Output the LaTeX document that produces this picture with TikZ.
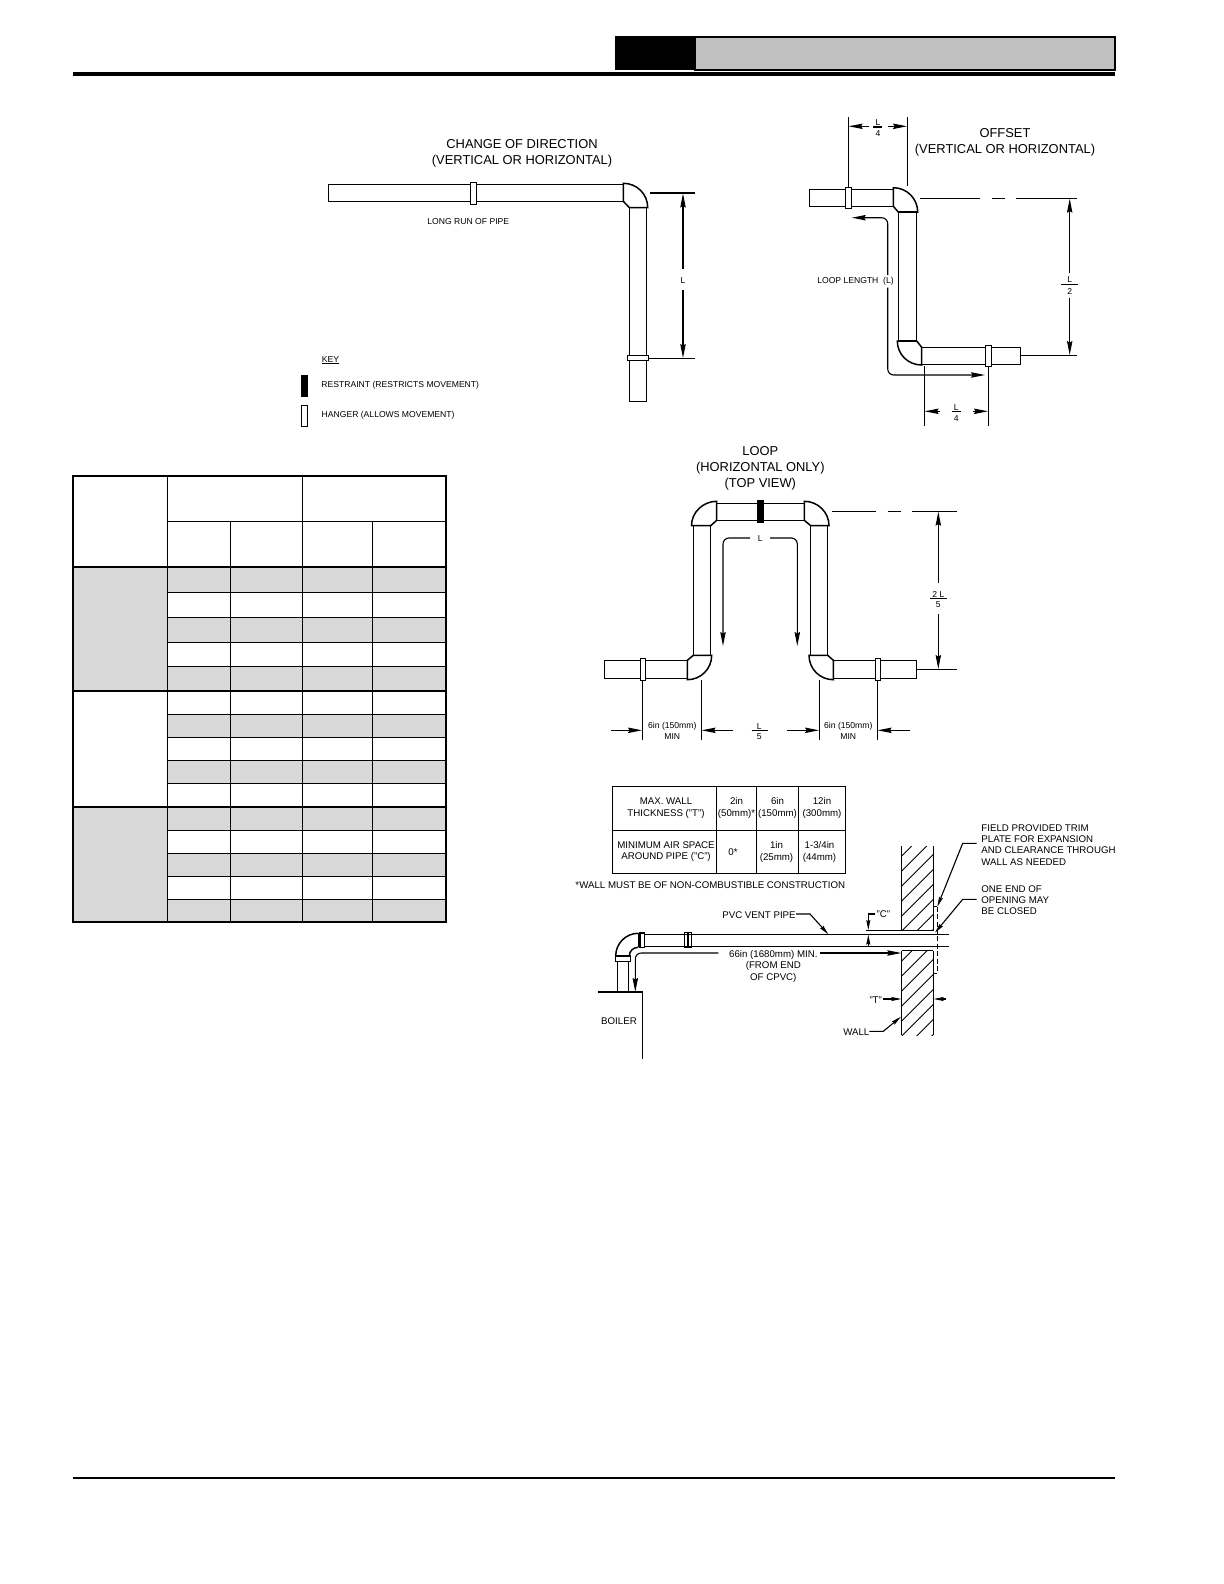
\documentclass[tikz,border=0pt]{standalone}
\usepackage{fontspec}
\setmainfont{Liberation Sans}
\usetikzlibrary{arrows.meta}
\definecolor{cellgrey}{HTML}{D8D8D8}
\definecolor{bargrey}{HTML}{C0C0C0}
\tikzset{
  pipe/.style={line width=0.75pt,line join=miter},
  pipefill/.style={pipe,fill=white},
  dimline/.style={line width=0.55pt},
  tip/.style={dimline,-{Stealth[length=7pt,width=2.7pt,inset=0.8pt]}},
  tinytip/.style={dimline,-{Stealth[length=5pt,width=2pt,inset=0.6pt]}},
  rndtip/.style={tip,rounded corners=3pt},
  title/.style={font=\fontsize{6.45}{7.9}\selectfont,align=center,inner sep=0pt,yshift=-0.7pt},
  small/.style={font=\fontsize{4.3}{5}\selectfont,align=center,inner sep=0pt,yshift=-0.4pt},
  note/.style={font=\fontsize{4.85}{5.7}\selectfont,align=center,inner sep=0pt,yshift=-0.4pt},
  noteleft/.style={note,align=left,anchor=west},
  cellline/.style={line width=0.6pt},
  tabthick/.style={line width=1.1pt},
  hatch/.style={line width=0.4pt},
}
\begin{document}
\begin{tikzpicture}[x=0.5pt,y=-0.5pt]
\useasboundingbox (0,0) rectangle (1224,1584);
\fill[white] (0,0) rectangle (1224,1584);

% ---------- page header and footer
\fill[black] (615,36) rectangle (695,70.5);
\draw[line width=1pt,fill=bargrey] (695,37) rectangle (1115,70);
\fill[black] (72.7,72) rectangle (1115,76);
\fill[black] (72.7,1477) rectangle (1115,1479);

% ---------- table
\foreach \ya/\yb in {566.7/592.3,617.3/642.3,666.3/690.3,714.3/737.3,760.3/783.3,807/830.3,853.3/876.3,899.3/921.7}
  \fill[cellgrey] (167.7,\ya) rectangle (446,\yb);
\fill[cellgrey] (72.7,566.7) rectangle (167.7,690.3);
\fill[cellgrey] (72.7,807) rectangle (167.7,921.7);
\foreach \y in {592.3,617.3,642.3,666.3,714.3,737.3,760.3,783.3,830.3,853.3,876.3,899.3}
  \draw[cellline] (167.7,\y) -- (446,\y);
\draw[cellline] (167.7,521.3) -- (446,521.3);
\draw[cellline] (167.7,475.7) -- (167.7,921.7);
\draw[cellline] (302.7,475.7) -- (302.7,921.7);
\draw[cellline] (230.3,521.3) -- (230.3,921.7);
\draw[cellline] (372.7,521.3) -- (372.7,921.7);
\foreach \y in {566.7,691,807}
  \draw[tabthick] (72.7,\y) -- (446,\y);
\draw[tabthick] (72.7,475.7) rectangle (446,921.7);

% ---------- change of direction
\node[title] (t1) at (522,152) {CHANGE OF DIRECTION\\(VERTICAL OR HORIZONTAL)};
\draw[pipe] (328.3,184.3) rectangle (623.3,201.3);
\draw[pipefill] (470.3,182.3) rectangle (476.7,204.3);
\draw[pipe] (623.3,183.3) .. controls +(13.5,0) and +(0,-13.5) .. (647.7,207.6) -- (629.3,207.6) -- (623.3,201.3) -- cycle;
\draw[pipe] (629.3,207.3) rectangle (646.7,401.7);
\draw[pipefill] (627.3,355.7) rectangle (648.7,360.7);
\node[small] (lr) at (468.3,221) {LONG RUN OF PIPE};
\draw[dimline] (650,193) -- (695,193);
\draw[dimline] (648.7,358.3) -- (695,358.3);
\node[small] (l1) at (683,279.5) {L};
\draw[tip] (683,269) -- (683,193.5);
\draw[tip] (683,290) -- (683,358);

% key
\node[small,anchor=west] (key) at (321.5,358.3) {KEY};
\draw[line width=0.5pt] (321.5,363.7) -- (338.7,363.7);
\fill[black] (301,375) rectangle (308,396.7);
\node[small,anchor=west] (k1) at (321,384.3) {RESTRAINT (RESTRICTS MOVEMENT)};
\draw[pipe] (301.7,405.3) rectangle (307.7,426.3);
\node[small,anchor=west] (k2) at (321.3,414.3) {HANGER (ALLOWS MOVEMENT)};

% ---------- offset
\node[title] (t2) at (1005,141) {OFFSET\\(VERTICAL OR HORIZONTAL)};
\draw[dimline] (848.3,117) -- (848.3,187.3);
\draw[dimline] (907.3,117) -- (907.3,185.7);
\node[small] (o1) at (878,121.7) {L};
\draw[dimline] (873.3,127) -- (882,127);
\node[small] (o2) at (878,132.3) {4};
\draw[tip] (869,126.3) -- (848.6,126.3);
\draw[tip] (888.3,126.3) -- (907,126.3);
\draw[pipe] (809.3,189.3) rectangle (893.3,206.3);
\draw[pipefill] (845.7,187.3) rectangle (851.7,208.3);
\draw[pipe] (893.3,187.7) .. controls +(13.5,0) and +(0,-13.5) .. (917.7,212.1) -- (898.3,212.1) -- (893.3,206.3) -- cycle;
\draw[pipe] (898.3,212.1) rectangle (916.7,341);
\draw[pipe] (897.3,341) -- (916.7,341) -- (921.7,347.3) -- (921.7,365) .. controls +(-13.5,0) and +(0,13.5) .. (897.3,341) -- cycle;
\draw[pipe] (921.7,347.3) rectangle (1020.3,364.3);
\draw[pipefill] (985.3,345.3) rectangle (991.3,366.7);
\draw[dimline] (920,198.3) -- (980,198.3) (992,198.3) -- (1005,198.3) (1016,198.3) -- (1076.7,198.3);
\draw[dimline] (1020.3,355.3) -- (1076.7,355.3);
\node[small] (o3) at (1069.7,279) {L};
\draw[dimline] (1061,284.3) -- (1077.7,284.3);
\node[small] (o4) at (1069.7,290.3) {2};
\draw[tip] (1069.7,273.3) -- (1069.7,198.7);
\draw[tip] (1069.7,297.7) -- (1069.7,355);
\node[small] (o5) at (855.5,280) {LOOP LENGTH\ \ (L)};
\draw[rndtip] (887.7,275) -- (887.7,217.7) -- (851.7,217.7);
\draw[rndtip] (887.7,287.7) -- (887.7,375) -- (985,375);
\draw[dimline] (924.3,365.7) -- (924.3,425.7);
\draw[dimline] (988.3,366.7) -- (988.3,425.7);
\node[small] (o6) at (956.3,406.3) {L};
\draw[dimline] (951.7,411.7) -- (961,411.7);
\node[small] (o7) at (956.3,417.3) {4};
\draw[tip] (940,411.3) -- (924.6,411.3);
\draw[tip] (973.3,411.3) -- (988,411.3);

% ---------- loop
\node[title] (t3) at (760.3,467) {LOOP\\(HORIZONTAL ONLY)\\(TOP VIEW)};
\draw[pipe] (716.7,503.3) rectangle (804.3,520.3);
\fill[black] (757,500) rectangle (764,522.7);
\draw[pipe] (716.7,501.3) .. controls +(-13.5,0) and +(0,-13.5) .. (691.5,525.7) -- (710.7,525.7) -- (716.7,520.3) -- cycle;
\draw[pipe] (804.3,501.3) .. controls +(13.5,0) and +(0,-13.5) .. (829,525.7) -- (810.7,525.7) -- (804.3,520.3) -- cycle;
\draw[pipe] (693.3,525.7) rectangle (710.7,655.3);
\draw[pipe] (810.7,525.7) rectangle (827.7,655.3);
\draw[pipe] (711.7,655.3) .. controls +(0,13.5) and +(13.5,0) .. (687.3,679.7) -- (687.3,660.3) -- (693.3,655.3) -- cycle;
\draw[pipe] (809,655.3) .. controls +(0,13.5) and +(-13.5,0) .. (833.3,679.7) -- (833.3,660.3) -- (827.7,655.3) -- cycle;
\draw[pipe] (604.3,660.3) rectangle (687.3,678.3);
\draw[pipe] (833.3,660.3) rectangle (916.7,678.3);
\draw[pipefill] (640.3,658.3) rectangle (645.7,680.7);
\draw[pipefill] (875.7,658.3) rectangle (880.7,680.7);
\node[small] (p1) at (760.3,538) {L};
\draw[rndtip] (750,538) -- (723,538) -- (723,646);
\draw[rndtip] (770,538) -- (797.3,538) -- (797.3,646);
\draw[dimline] (831.7,511.3) -- (876,511.3) (887.7,511.3) -- (901,511.3) (912,511.3) -- (956.7,511.3);
\draw[dimline] (916.7,669.3) -- (956.7,669.3);
\node[small] (p2) at (938.3,594) {2 L};
\draw[dimline] (930,598.5) -- (946.7,598.5);
\node[small] (p3) at (938.3,603.7) {5};
\draw[tip] (938.3,583.3) -- (938.3,511.7);
\draw[tip] (938.3,614) -- (938.3,669);
\draw[dimline] (642.3,680.7) -- (642.3,740);
\draw[dimline] (701.3,680) -- (701.3,740);
\draw[dimline] (819.3,680) -- (819.3,740);
\draw[dimline] (877.3,680.7) -- (877.3,740);
\draw[tip] (611,730.3) -- (642,730.3);
\draw[tip] (733.3,730.3) -- (701.6,730.3);
\draw[tip] (786.7,730.3) -- (819,730.3);
\draw[tip] (910,730.3) -- (877.6,730.3);
\node[small] (p4) at (672.3,730.3) {6in (150mm)\\[0.5pt]MIN};
\node[small] (p5) at (848.3,730.3) {6in (150mm)\\[0.5pt]MIN};
\node[small] (p6) at (759.3,725.3) {L};
\draw[dimline] (751.7,730.7) -- (767.7,730.7);
\node[small] (p7) at (759.3,736) {5};

% ---------- clearance table
\draw[cellline] (612.3,786.3) rectangle (845.7,873.3);
\draw[cellline] (612.3,830.3) -- (845.7,830.3);
\draw[cellline] (716.7,786.3) -- (716.7,873.3);
\draw[cellline] (756.3,786.3) -- (756.3,873.3);
\draw[cellline] (798.3,786.3) -- (798.3,873.3);
\node[note] (c1) at (666,807.3) {MAX. WALL\\THICKNESS ("T")};
\node[note] (c2) at (736.5,807.3) {2in\\(50mm)*};
\node[note] (c3) at (777.5,807.3) {6in\\(150mm)};
\node[note] (c4) at (822,807.3) {12in\\(300mm)};
\node[note] (c5) at (666,851) {MINIMUM AIR SPACE\\AROUND PIPE ("C")};
\node[note] (c6) at (733,851.5) {0*};
\node[note] (c7) at (776.5,851) {1in\\(25mm)};
\node[note] (c8) at (819.5,851) {1-3/4in\\(44mm)};
\node[note] (c9) at (710.3,884.7) {*WALL MUST BE OF NON-COMBUSTIBLE CONSTRUCTION};

% ---------- wall and vent
\begin{scope}
\clip (901.7,846) rectangle (933.3,930.7);
\foreach \k in {-2,...,10}
  \draw[hatch] ({1757.7+15*\k-800},800) -- ({1757.7+15*\k-1000},1000);
\end{scope}
\begin{scope}
\clip (901.7,950.7) rectangle (933.3,1035);
\foreach \k in {5,...,16}
  \draw[hatch] ({1757.7+15*\k-900},900) -- ({1757.7+15*\k-1100},1100);
\end{scope}
\draw[pipe] (901.7,846) -- (901.7,930.7) (933.3,846) -- (933.3,930.7);
\draw[pipe] (900,930.7) -- (933.3,930.7);
\draw[pipe] (901.7,950.7) -- (933.3,950.7);
\draw[pipe] (901.7,950.7) -- (901.7,1035) (933.3,950.7) -- (933.3,1035);
\draw[pipe] (933.3,906.7) -- (937.3,906.7);
\draw[pipe] (933.3,973.3) -- (937.3,973.3);
\draw[line width=0.6pt,dash pattern=on 2.5pt off 1.2pt] (937.3,906.7) -- (937.3,973.3);
\draw[pipe] (645,934.3) -- (949,934.3);
\draw[pipe] (645,946.3) -- (949,946.3);
\draw[pipe] (638.3,933.3) .. controls +(-12.5,0) and +(0,-12.5) .. (615.7,956);
\draw[pipe] (638.3,947.3) .. controls +(-5,0) and +(0,-5) .. (629.3,956);
\draw[pipe] (639.3,933) rectangle (644.3,947.3);
\fill[black] (638,933) rectangle (640.5,947.3);
\draw[pipe] (684.3,932.3) rectangle (691.7,947.3);
\draw[pipe] (688,932.3) -- (688,947.3);
\draw[pipefill] (615.3,956) rectangle (630.7,961.3);
\draw[pipe] (617.3,961.3) -- (617.3,992) (628.7,961.3) -- (628.7,992);
\draw[pipe] (598.3,992) -- (642.3,992) -- (642.3,1058.7);
\node[note] (b1) at (619,1020.7) {BOILER};
\node[note] (v1) at (759,914) {PVC VENT PIPE};
\draw[tinytip] (796,914) -- (810,914) -- (828.3,934.3);
\node[note] (v2) at (773.3,965.3) {66in (1680mm) MIN.\\(FROM END\\OF CPVC)};
\draw[rndtip] (718.3,953) -- (635.3,953) -- (635.3,992);
\draw[tip] (820,953) -- (901.3,953);
% C dimension
\node[note] (v3) at (883.3,913.3) {"C"};
\draw[dimline] (866,930.3) -- (900,930.3);
\draw[tinytip] (875,914) -- (868.3,914) -- (868.3,930);
\draw[tinytip] (868.3,946) -- (868.3,934.6);
% T dimension
\node[note] (v4) at (875.7,999) {"T"};
\draw[tinytip] (883.3,999) -- (901.4,999);
\draw[tinytip] (946,999) -- (933.6,999);
% wall label
\node[note] (v5) at (856.3,1031.3) {WALL};
\draw[tinytip] (869.3,1031.3) -- (883.3,1031.3) -- (901,1016.7);
% notes
\node[noteleft] (n1) at (981,844) {FIELD PROVIDED TRIM\\PLATE FOR EXPANSION\\AND CLEARANCE THROUGH\\WALL AS NEEDED};
\node[noteleft] (n2) at (981,899.3) {ONE END OF\\OPENING MAY\\BE CLOSED};
\draw[tinytip] (976.7,843.3) -- (962.7,843.3) -- (937.3,906.7);
\draw[tinytip] (976.7,899.3) -- (962.7,899.3) -- (935,932.7);
\end{tikzpicture}
\end{document}
